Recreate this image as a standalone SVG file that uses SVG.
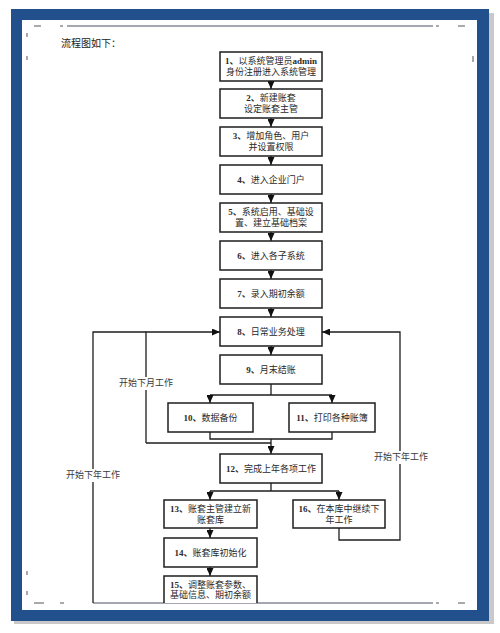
<svg xmlns="http://www.w3.org/2000/svg" width="500" height="633" viewBox="0 0 500 633">
<style>
.box{fill:#fff;stroke:#1e1e1e;stroke-width:1.5}
.t{font-family:"Liberation Serif","Noto Sans CJK SC",serif;font-size:9px;fill:#2a2a2a;text-anchor:middle}
.b{font-weight:bold}
.lbl{font-family:"Liberation Serif","Noto Sans CJK SC",serif;font-size:9px;fill:#3a3a3a;text-anchor:middle}
.bg{fill:#fff}
.c{fill:none;stroke:#1e1e1e;stroke-width:1.3}
.mk{fill:none;stroke:#555;stroke-width:1}
</style>
<defs>
<marker id="ah" markerUnits="userSpaceOnUse" markerWidth="8" markerHeight="7" refX="8" refY="3.5" orient="auto">
<path d="M0,0 L8,3.5 L0,7 z" fill="#111"/>
</marker>
</defs>
<rect x="0" y="0" width="500" height="633" fill="#fff"/>
<g id="frame">
<rect x="14" y="13" width="480" height="611" fill="#c9c9c9"/>
<rect x="11" y="9" width="478" height="612" fill="#21508c"/>
<rect x="22" y="20" width="455" height="590" fill="#fff"/>
<line x1="67" y1="26" x2="433" y2="26" stroke="#4a5060" stroke-width="1.2"/>
<line x1="93" y1="603" x2="433" y2="603" stroke="#4a5060" stroke-width="1.2"/>
<path class="mk" d="M34,26 H41 M60,26 H63 M436,26 H439 M458,26 H465 M34,603 H44 M60,603 H64 M436,603 H439 M458,603 H465 M27,33 V37 M27,56 V60 M27,571 V575 M27,591 V595 M473,56 V62"/>
<text x="61" y="47" font-family="'Noto Sans CJK SC',sans-serif" font-size="10" fill="#222">流程图如下：</text>
</g>
<g id="connectors">
<path class="c" marker-end="url(#ah)" d="M271,81 V89"/>
<path class="c" marker-end="url(#ah)" d="M271,118 V127"/>
<path class="c" marker-end="url(#ah)" d="M271,156 V165"/>
<path class="c" marker-end="url(#ah)" d="M271,194 V203"/>
<path class="c" marker-end="url(#ah)" d="M271,232 V241"/>
<path class="c" marker-end="url(#ah)" d="M271,270 V279"/>
<path class="c" marker-end="url(#ah)" d="M271,308 V317"/>
<path class="c" marker-end="url(#ah)" d="M271,346 V355"/>
<path class="c" d="M271,384 V395 M210,395 H332"/>
<path class="c" marker-end="url(#ah)" d="M210,395 V403"/>
<path class="c" marker-end="url(#ah)" d="M332,395 V403"/>
<path class="c" d="M210,432 V439 H332 V432"/>
<path class="c" marker-end="url(#ah)" d="M271,439 V454"/>
<path class="c" d="M146,443 H271"/>
<path class="c" marker-end="url(#ah)" d="M146,443 V332 H220"/>
<path class="c" d="M93,603 V332 H146"/>
<path class="c" marker-end="url(#ah)" d="M339,528 V540 H400 V332 H322"/>
<path class="c" d="M271,483 V491 M210,491 H339"/>
<path class="c" marker-end="url(#ah)" d="M210,491 V500"/>
<path class="c" marker-end="url(#ah)" d="M339,491 V500"/>
<path class="c" marker-end="url(#ah)" d="M210,528 V538"/>
<path class="c" marker-end="url(#ah)" d="M210,567 V576"/>
<rect class="bg" x="119" y="377" width="54" height="13"/>
<text class="lbl" x="146" y="386">开始下月工作</text>
<rect class="bg" x="66" y="469" width="54" height="13"/>
<text class="lbl" x="93" y="478">开始下年工作</text>
<rect class="bg" x="374" y="451" width="54" height="13"/>
<text class="lbl" x="401" y="460">开始下年工作</text>
</g>
<g id="n1"><rect class="box" x="220" y="52" width="102" height="29"/><text class="t" x="271" y="64"><tspan class="b">1、</tspan>以系统管理员<tspan class="b">admin</tspan></text><text class="t" x="271" y="75">身份注册进入系统管理</text></g>
<g id="n2"><rect class="box" x="220" y="89" width="102" height="29"/><text class="t" x="271" y="101"><tspan class="b">2、</tspan>新建账套</text><text class="t" x="271" y="112">设定账套主管</text></g>
<g id="n3"><rect class="box" x="220" y="127" width="102" height="29"/><text class="t" x="271" y="139"><tspan class="b">3、</tspan>增加角色、用户</text><text class="t" x="271" y="150">并设置权限</text></g>
<g id="n4"><rect class="box" x="220" y="165" width="102" height="29"/><text class="t" x="271" y="182.5"><tspan class="b">4、</tspan>进入企业门户</text></g>
<g id="n5"><rect class="box" x="220" y="203" width="102" height="29"/><text class="t" x="271" y="215"><tspan class="b">5、</tspan>系统启用、基础设</text><text class="t" x="271" y="226">置、建立基础档案</text></g>
<g id="n6"><rect class="box" x="220" y="241" width="102" height="29"/><text class="t" x="271" y="258.5"><tspan class="b">6、</tspan>进入各子系统</text></g>
<g id="n7"><rect class="box" x="220" y="279" width="102" height="29"/><text class="t" x="271" y="296.5"><tspan class="b">7、</tspan>录入期初余额</text></g>
<g id="n8"><rect class="box" x="220" y="317" width="102" height="29"/><text class="t" x="271" y="334.5"><tspan class="b">8、</tspan>日常业务处理</text></g>
<g id="n9"><rect class="box" x="220" y="355" width="102" height="29"/><text class="t" x="271" y="372.5"><tspan class="b">9、</tspan>月末结账</text></g>
<g id="n10"><rect class="box" x="168" y="403" width="85" height="29"/><text class="t" x="210.5" y="420.5"><tspan class="b">10、</tspan>数据备份</text></g>
<g id="n11"><rect class="box" x="289" y="403" width="86" height="29"/><text class="t" x="332" y="420.5"><tspan class="b">11、</tspan>打印各种账簿</text></g>
<g id="n12"><rect class="box" x="220" y="454" width="102" height="29"/><text class="t" x="271" y="471.5"><tspan class="b">12、</tspan>完成上年各项工作</text></g>
<g id="n13"><rect class="box" x="164" y="500" width="93" height="28"/><text class="t" x="210.5" y="512"><tspan class="b">13、</tspan>账套主管建立新</text><text class="t" x="210.5" y="523">账套库</text></g>
<g id="n14"><rect class="box" x="164" y="538" width="93" height="29"/><text class="t" x="210.5" y="555.5"><tspan class="b">14、</tspan>账套库初始化</text></g>
<g id="n15"><path class="box" d="M164,603 V576 H257 V603"/><text class="t" x="210.5" y="587.5"><tspan class="b">15、</tspan>调整账套参数、</text><text class="t" x="210.5" y="598">基础信息、期初余额</text></g>
<g id="n16"><rect class="box" x="293" y="500" width="92" height="28"/><text class="t" x="339" y="512"><tspan class="b">16、</tspan>在本库中继续下</text><text class="t" x="339" y="523">年工作</text></g>
</svg>
